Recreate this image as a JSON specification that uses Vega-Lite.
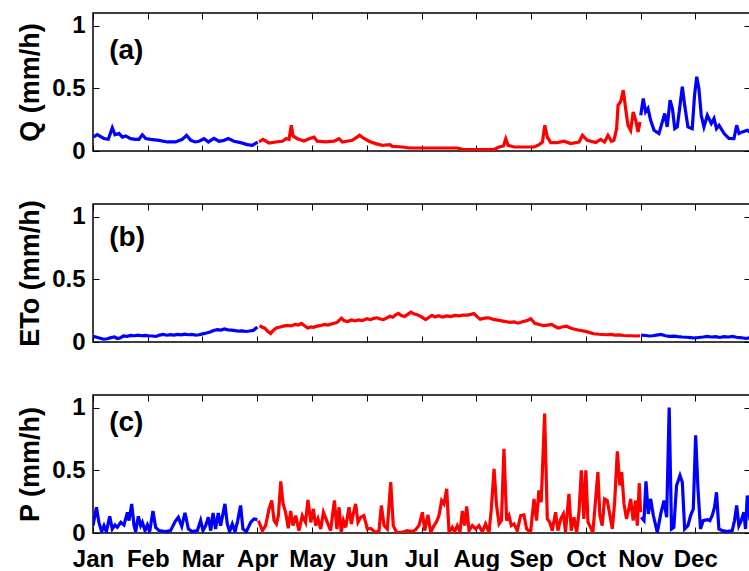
{
 "$schema": "https://vega.github.io/schema/vega-lite/v6.json",
 "padding": {"left": 15, "top": 11, "right": 0, "bottom": 0},
 "background": "white",
 "spacing": 53,
 "bounds": "flush",
 "config": {
  "view": {"stroke": "black", "strokeWidth": 1.5},
  "font": "Liberation Sans",
  "axis": {"labelFont": "Liberation Sans", "labelFontSize": 24, "labelFontWeight": "bold", "labelColor": "black", "titleFont": "Liberation Sans", "titleFontSize": 27, "titleFontWeight": "bold", "titleColor": "black", "tickColor": "black", "tickSize": -6, "tickWidth": 1, "domain": false, "grid": false}
 },
 "datasets": {
  "lab": [
   {"p": "a", "t": "(a)", "d": 9, "v": 0.8},
   {"p": "b", "t": "(b)", "d": 9, "v": 0.83},
   {"p": "c", "t": "(c)", "d": 9, "v": 0.88}
  ],
  "d": [
   {"p":"a","g":1,"s":"w","d":0,"v":0.11},{"p":"a","g":1,"s":"w","d":2.4,"v":0.13},{"p":"a","g":1,"s":"w","d":6,"v":0.1},{"p":"a","g":1,"s":"w","d":8.5,"v":0.094},{"p":"a","g":1,"s":"w","d":10.7,"v":0.184},{"p":"a","g":1,"s":"w","d":12.2,"v":0.13},{"p":"a","g":1,"s":"w","d":14.4,"v":0.14},{"p":"a","g":1,"s":"w","d":16.3,"v":0.11},{"p":"a","g":1,"s":"w","d":18.1,"v":0.12},{"p":"a","g":1,"s":"w","d":20.9,"v":0.098},{"p":"a","g":1,"s":"w","d":23.7,"v":0.093},{"p":"a","g":1,"s":"w","d":25.5,"v":0.093},{"p":"a","g":1,"s":"w","d":27.4,"v":0.13},{"p":"a","g":1,"s":"w","d":29.3,"v":0.1},{"p":"a","g":1,"s":"w","d":32,"v":0.093},{"p":"a","g":1,"s":"w","d":36.7,"v":0.085},{"p":"a","g":1,"s":"w","d":41.3,"v":0.072},{"p":"a","g":1,"s":"w","d":45.9,"v":0.072},{"p":"a","g":1,"s":"w","d":49.6,"v":0.093},{"p":"a","g":1,"s":"w","d":52,"v":0.125},{"p":"a","g":1,"s":"w","d":54.3,"v":0.085},{"p":"a","g":1,"s":"w","d":56.7,"v":0.072},{"p":"a","g":1,"s":"w","d":58.9,"v":0.078},{"p":"a","g":1,"s":"w","d":61.7,"v":0.098},{"p":"a","g":1,"s":"w","d":64.1,"v":0.072},{"p":"a","g":1,"s":"w","d":67.2,"v":0.1},{"p":"a","g":1,"s":"w","d":70,"v":0.078},{"p":"a","g":1,"s":"w","d":72.8,"v":0.085},{"p":"a","g":1,"s":"w","d":75.2,"v":0.1},{"p":"a","g":1,"s":"w","d":78.3,"v":0.078},{"p":"a","g":1,"s":"w","d":82,"v":0.067},{"p":"a","g":1,"s":"w","d":85.7,"v":0.051},{"p":"a","g":1,"s":"w","d":88.5,"v":0.045},{"p":"a","g":1,"s":"w","d":90.7,"v":0.064},{"p":"a","g":1,"s":"w","d":91.5,"v":0.07},
   {"p":"a","g":2,"s":"s","d":92.2,"v":0.072},{"p":"a","g":2,"s":"s","d":94.4,"v":0.093},{"p":"a","g":2,"s":"s","d":97.8,"v":0.064},{"p":"a","g":2,"s":"s","d":101.5,"v":0.072},{"p":"a","g":2,"s":"s","d":105.2,"v":0.078},{"p":"a","g":2,"s":"s","d":107.4,"v":0.1},{"p":"a","g":2,"s":"s","d":108.9,"v":0.093},{"p":"a","g":2,"s":"s","d":110.2,"v":0.205},{"p":"a","g":2,"s":"s","d":111.1,"v":0.12},{"p":"a","g":2,"s":"s","d":113.5,"v":0.098},{"p":"a","g":2,"s":"s","d":117.2,"v":0.08},{"p":"a","g":2,"s":"s","d":120,"v":0.098},{"p":"a","g":2,"s":"s","d":122.8,"v":0.11},{"p":"a","g":2,"s":"s","d":124.6,"v":0.078},{"p":"a","g":2,"s":"s","d":129.3,"v":0.072},{"p":"a","g":2,"s":"s","d":133.9,"v":0.078},{"p":"a","g":2,"s":"s","d":136.7,"v":0.098},{"p":"a","g":2,"s":"s","d":138.5,"v":0.072},{"p":"a","g":2,"s":"s","d":144.1,"v":0.085},{"p":"a","g":2,"s":"s","d":148.1,"v":0.125},{"p":"a","g":2,"s":"s","d":150.6,"v":0.1},{"p":"a","g":2,"s":"s","d":153.3,"v":0.078},{"p":"a","g":2,"s":"s","d":157,"v":0.059},{"p":"a","g":2,"s":"s","d":160.7,"v":0.045},{"p":"a","g":2,"s":"s","d":165,"v":0.051},{"p":"a","g":2,"s":"s","d":166.3,"v":0.037},{"p":"a","g":2,"s":"s","d":171.9,"v":0.032},{"p":"a","g":2,"s":"s","d":175.6,"v":0.024},{"p":"a","g":2,"s":"s","d":181,"v":0.024},{"p":"a","g":2,"s":"s","d":202.4,"v":0.024},{"p":"a","g":2,"s":"s","d":205.2,"v":0.013},{"p":"a","g":2,"s":"s","d":211.7,"v":0.011},{"p":"a","g":2,"s":"s","d":222.8,"v":0.013},{"p":"a","g":2,"s":"s","d":225.6,"v":0.032},{"p":"a","g":2,"s":"s","d":228,"v":0.04},{"p":"a","g":2,"s":"s","d":229.3,"v":0.098},{"p":"a","g":2,"s":"s","d":230.6,"v":0.045},{"p":"a","g":2,"s":"s","d":234,"v":0.032},{"p":"a","g":2,"s":"s","d":245.1,"v":0.032},{"p":"a","g":2,"s":"s","d":247.9,"v":0.051},{"p":"a","g":2,"s":"s","d":249.7,"v":0.072},{"p":"a","g":2,"s":"s","d":251,"v":0.205},{"p":"a","g":2,"s":"s","d":252.4,"v":0.11},{"p":"a","g":2,"s":"s","d":254.3,"v":0.067},{"p":"a","g":2,"s":"s","d":258,"v":0.067},{"p":"a","g":2,"s":"s","d":261.7,"v":0.078},{"p":"a","g":2,"s":"s","d":265.4,"v":0.059},{"p":"a","g":2,"s":"s","d":270,"v":0.072},{"p":"a","g":2,"s":"s","d":271.9,"v":0.125},{"p":"a","g":2,"s":"s","d":274.6,"v":0.085},{"p":"a","g":2,"s":"s","d":279.3,"v":0.067},{"p":"a","g":2,"s":"s","d":282,"v":0.093},{"p":"a","g":2,"s":"s","d":284.2,"v":0.072},{"p":"a","g":2,"s":"s","d":286.1,"v":0.125},{"p":"a","g":2,"s":"s","d":288,"v":0.078},{"p":"a","g":2,"s":"s","d":289.4,"v":0.085},{"p":"a","g":2,"s":"s","d":290.9,"v":0.178},{"p":"a","g":2,"s":"s","d":291.7,"v":0.365},{"p":"a","g":2,"s":"s","d":293.1,"v":0.392},{"p":"a","g":2,"s":"s","d":294.6,"v":0.485},{"p":"a","g":2,"s":"s","d":295.9,"v":0.339},{"p":"a","g":2,"s":"s","d":297.2,"v":0.205},{"p":"a","g":2,"s":"s","d":298.7,"v":0.165},{"p":"a","g":2,"s":"s","d":300.1,"v":0.312},{"p":"a","g":2,"s":"s","d":301.5,"v":0.245},{"p":"a","g":2,"s":"s","d":302.8,"v":0.152},{"p":"a","g":2,"s":"s","d":303.9,"v":0.232},
   {"p":"a","g":3,"s":"w","d":304.3,"v":0.285},{"p":"a","g":3,"s":"w","d":305.7,"v":0.419},{"p":"a","g":3,"s":"w","d":307,"v":0.312},{"p":"a","g":3,"s":"w","d":308.3,"v":0.339},{"p":"a","g":3,"s":"w","d":309.8,"v":0.245},{"p":"a","g":3,"s":"w","d":311.7,"v":0.165},{"p":"a","g":3,"s":"w","d":314.4,"v":0.139},{"p":"a","g":3,"s":"w","d":316.3,"v":0.232},{"p":"a","g":3,"s":"w","d":317.6,"v":0.299},{"p":"a","g":3,"s":"w","d":319,"v":0.192},{"p":"a","g":3,"s":"w","d":320.6,"v":0.405},{"p":"a","g":3,"s":"w","d":321.9,"v":0.339},{"p":"a","g":3,"s":"w","d":323.2,"v":0.178},{"p":"a","g":3,"s":"w","d":324.6,"v":0.192},{"p":"a","g":3,"s":"w","d":325.9,"v":0.339},{"p":"a","g":3,"s":"w","d":327.4,"v":0.512},{"p":"a","g":3,"s":"w","d":328.7,"v":0.365},{"p":"a","g":3,"s":"w","d":330.5,"v":0.192},{"p":"a","g":3,"s":"w","d":332.9,"v":0.178},{"p":"a","g":3,"s":"w","d":334.2,"v":0.445},{"p":"a","g":3,"s":"w","d":335.4,"v":0.592},{"p":"a","g":3,"s":"w","d":336.6,"v":0.499},{"p":"a","g":3,"s":"w","d":337.9,"v":0.285},{"p":"a","g":3,"s":"w","d":339.4,"v":0.192},{"p":"a","g":3,"s":"w","d":341.3,"v":0.285},{"p":"a","g":3,"s":"w","d":343.5,"v":0.219},{"p":"a","g":3,"s":"w","d":345,"v":0.259},{"p":"a","g":3,"s":"w","d":346.4,"v":0.178},{"p":"a","g":3,"s":"w","d":347.8,"v":0.205},{"p":"a","g":3,"s":"w","d":350.6,"v":0.139},{"p":"a","g":3,"s":"w","d":353.3,"v":0.1},{"p":"a","g":3,"s":"w","d":356.1,"v":0.098},{"p":"a","g":3,"s":"w","d":357.6,"v":0.205},{"p":"a","g":3,"s":"w","d":358.9,"v":0.139},{"p":"a","g":3,"s":"w","d":360.7,"v":0.152},{"p":"a","g":3,"s":"w","d":363.5,"v":0.165},{"p":"a","g":3,"s":"w","d":365,"v":0.15},
   {"p":"b","g":1,"s":"w","d":0,"v":0.045},{"p":"b","g":1,"s":"w","d":2,"v":0.038},{"p":"b","g":1,"s":"w","d":4,"v":0.03},{"p":"b","g":1,"s":"w","d":6,"v":0.022},{"p":"b","g":1,"s":"w","d":8,"v":0.026},{"p":"b","g":1,"s":"w","d":10,"v":0.035},{"p":"b","g":1,"s":"w","d":12,"v":0.04},{"p":"b","g":1,"s":"w","d":13.5,"v":0.028},{"p":"b","g":1,"s":"w","d":15,"v":0.032},{"p":"b","g":1,"s":"w","d":17,"v":0.048},{"p":"b","g":1,"s":"w","d":19,"v":0.045},{"p":"b","g":1,"s":"w","d":21,"v":0.052},{"p":"b","g":1,"s":"w","d":23,"v":0.05},{"p":"b","g":1,"s":"w","d":25,"v":0.055},{"p":"b","g":1,"s":"w","d":27,"v":0.05},{"p":"b","g":1,"s":"w","d":29,"v":0.053},{"p":"b","g":1,"s":"w","d":31,"v":0.05},{"p":"b","g":1,"s":"w","d":33,"v":0.048},{"p":"b","g":1,"s":"w","d":35,"v":0.044},{"p":"b","g":1,"s":"w","d":37,"v":0.055},{"p":"b","g":1,"s":"w","d":39,"v":0.06},{"p":"b","g":1,"s":"w","d":41,"v":0.054},{"p":"b","g":1,"s":"w","d":43,"v":0.058},{"p":"b","g":1,"s":"w","d":45,"v":0.055},{"p":"b","g":1,"s":"w","d":47,"v":0.06},{"p":"b","g":1,"s":"w","d":49,"v":0.057},{"p":"b","g":1,"s":"w","d":51,"v":0.062},{"p":"b","g":1,"s":"w","d":53,"v":0.058},{"p":"b","g":1,"s":"w","d":55,"v":0.06},{"p":"b","g":1,"s":"w","d":57,"v":0.055},{"p":"b","g":1,"s":"w","d":59,"v":0.058},{"p":"b","g":1,"s":"w","d":61,"v":0.065},{"p":"b","g":1,"s":"w","d":63,"v":0.072},{"p":"b","g":1,"s":"w","d":65,"v":0.08},{"p":"b","g":1,"s":"w","d":67,"v":0.092},{"p":"b","g":1,"s":"w","d":69,"v":0.098},{"p":"b","g":1,"s":"w","d":71,"v":0.095},{"p":"b","g":1,"s":"w","d":73,"v":0.104},{"p":"b","g":1,"s":"w","d":75,"v":0.097},{"p":"b","g":1,"s":"w","d":77,"v":0.094},{"p":"b","g":1,"s":"w","d":79,"v":0.09},{"p":"b","g":1,"s":"w","d":81,"v":0.086},{"p":"b","g":1,"s":"w","d":83,"v":0.089},{"p":"b","g":1,"s":"w","d":85,"v":0.084},{"p":"b","g":1,"s":"w","d":87,"v":0.088},{"p":"b","g":1,"s":"w","d":89,"v":0.092},{"p":"b","g":1,"s":"w","d":91.3,"v":0.12},
   {"p":"b","g":2,"s":"s","d":92.5,"v":0.13},{"p":"b","g":2,"s":"s","d":94,"v":0.118},{"p":"b","g":2,"s":"s","d":95.5,"v":0.11},{"p":"b","g":2,"s":"s","d":97,"v":0.085},{"p":"b","g":2,"s":"s","d":98.7,"v":0.067},{"p":"b","g":2,"s":"s","d":100,"v":0.09},{"p":"b","g":2,"s":"s","d":101.8,"v":0.112},{"p":"b","g":2,"s":"s","d":104,"v":0.12},{"p":"b","g":2,"s":"s","d":106,"v":0.127},{"p":"b","g":2,"s":"s","d":107.6,"v":0.132},{"p":"b","g":2,"s":"s","d":110,"v":0.128},{"p":"b","g":2,"s":"s","d":112.3,"v":0.14},{"p":"b","g":2,"s":"s","d":114,"v":0.135},{"p":"b","g":2,"s":"s","d":115.8,"v":0.148},{"p":"b","g":2,"s":"s","d":117.5,"v":0.13},{"p":"b","g":2,"s":"s","d":119.3,"v":0.112},{"p":"b","g":2,"s":"s","d":121,"v":0.12},{"p":"b","g":2,"s":"s","d":122.5,"v":0.117},{"p":"b","g":2,"s":"s","d":124,"v":0.125},{"p":"b","g":2,"s":"s","d":126,"v":0.13},{"p":"b","g":2,"s":"s","d":128.7,"v":0.14},{"p":"b","g":2,"s":"s","d":130.5,"v":0.135},{"p":"b","g":2,"s":"s","d":133.4,"v":0.148},{"p":"b","g":2,"s":"s","d":135.5,"v":0.155},{"p":"b","g":2,"s":"s","d":138,"v":0.19},{"p":"b","g":2,"s":"s","d":139.5,"v":0.17},{"p":"b","g":2,"s":"s","d":141.5,"v":0.163},{"p":"b","g":2,"s":"s","d":143.5,"v":0.175},{"p":"b","g":2,"s":"s","d":145.5,"v":0.168},{"p":"b","g":2,"s":"s","d":147.4,"v":0.176},{"p":"b","g":2,"s":"s","d":149.5,"v":0.17},{"p":"b","g":2,"s":"s","d":152.1,"v":0.185},{"p":"b","g":2,"s":"s","d":154,"v":0.178},{"p":"b","g":2,"s":"s","d":156,"v":0.188},{"p":"b","g":2,"s":"s","d":157.9,"v":0.193},{"p":"b","g":2,"s":"s","d":159.5,"v":0.183},{"p":"b","g":2,"s":"s","d":161.4,"v":0.178},{"p":"b","g":2,"s":"s","d":163,"v":0.19},{"p":"b","g":2,"s":"s","d":164.9,"v":0.205},{"p":"b","g":2,"s":"s","d":166.5,"v":0.198},{"p":"b","g":2,"s":"s","d":168,"v":0.215},{"p":"b","g":2,"s":"s","d":169.6,"v":0.228},{"p":"b","g":2,"s":"s","d":171.3,"v":0.21},{"p":"b","g":2,"s":"s","d":173.1,"v":0.203},{"p":"b","g":2,"s":"s","d":175,"v":0.222},{"p":"b","g":2,"s":"s","d":176.6,"v":0.238},{"p":"b","g":2,"s":"s","d":178.2,"v":0.225},{"p":"b","g":2,"s":"s","d":180.1,"v":0.218},{"p":"b","g":2,"s":"s","d":182.5,"v":0.2},{"p":"b","g":2,"s":"s","d":184.8,"v":0.178},{"p":"b","g":2,"s":"s","d":186.5,"v":0.195},{"p":"b","g":2,"s":"s","d":188.3,"v":0.212},{"p":"b","g":2,"s":"s","d":190,"v":0.2},{"p":"b","g":2,"s":"s","d":192,"v":0.21},{"p":"b","g":2,"s":"s","d":194.1,"v":0.198},{"p":"b","g":2,"s":"s","d":196.5,"v":0.208},{"p":"b","g":2,"s":"s","d":198.8,"v":0.203},{"p":"b","g":2,"s":"s","d":201,"v":0.212},{"p":"b","g":2,"s":"s","d":203.5,"v":0.208},{"p":"b","g":2,"s":"s","d":205.5,"v":0.215},{"p":"b","g":2,"s":"s","d":208.1,"v":0.214},{"p":"b","g":2,"s":"s","d":210,"v":0.22},{"p":"b","g":2,"s":"s","d":211.6,"v":0.226},{"p":"b","g":2,"s":"s","d":213.5,"v":0.2},{"p":"b","g":2,"s":"s","d":215.1,"v":0.182},{"p":"b","g":2,"s":"s","d":217.5,"v":0.19},{"p":"b","g":2,"s":"s","d":219.8,"v":0.193},{"p":"b","g":2,"s":"s","d":222.5,"v":0.18},{"p":"b","g":2,"s":"s","d":225.7,"v":0.172},{"p":"b","g":2,"s":"s","d":228.5,"v":0.165},{"p":"b","g":2,"s":"s","d":231.5,"v":0.156},{"p":"b","g":2,"s":"s","d":234,"v":0.16},{"p":"b","g":2,"s":"s","d":236.2,"v":0.15},{"p":"b","g":2,"s":"s","d":238.5,"v":0.162},{"p":"b","g":2,"s":"s","d":241,"v":0.17},{"p":"b","g":2,"s":"s","d":243.2,"v":0.186},{"p":"b","g":2,"s":"s","d":244.5,"v":0.165},{"p":"b","g":2,"s":"s","d":245.5,"v":0.148},{"p":"b","g":2,"s":"s","d":248,"v":0.14},{"p":"b","g":2,"s":"s","d":250.2,"v":0.13},{"p":"b","g":2,"s":"s","d":252.5,"v":0.135},{"p":"b","g":2,"s":"s","d":254.9,"v":0.14},{"p":"b","g":2,"s":"s","d":256.5,"v":0.125},{"p":"b","g":2,"s":"s","d":258.4,"v":0.112},{"p":"b","g":2,"s":"s","d":260.5,"v":0.12},{"p":"b","g":2,"s":"s","d":263.1,"v":0.126},{"p":"b","g":2,"s":"s","d":265.5,"v":0.11},{"p":"b","g":2,"s":"s","d":268.9,"v":0.098},{"p":"b","g":2,"s":"s","d":271,"v":0.092},{"p":"b","g":2,"s":"s","d":273.6,"v":0.085},{"p":"b","g":2,"s":"s","d":276,"v":0.075},{"p":"b","g":2,"s":"s","d":278.2,"v":0.066},{"p":"b","g":2,"s":"s","d":281,"v":0.062},{"p":"b","g":2,"s":"s","d":283,"v":0.06},{"p":"b","g":2,"s":"s","d":285.3,"v":0.058},{"p":"b","g":2,"s":"s","d":288,"v":0.06},{"p":"b","g":2,"s":"s","d":290,"v":0.055},{"p":"b","g":2,"s":"s","d":292.3,"v":0.057},{"p":"b","g":2,"s":"s","d":295,"v":0.052},{"p":"b","g":2,"s":"s","d":297,"v":0.05},{"p":"b","g":2,"s":"s","d":299.3,"v":0.05},{"p":"b","g":2,"s":"s","d":302,"v":0.048},{"p":"b","g":2,"s":"s","d":304,"v":0.05},
   {"p":"b","g":3,"s":"w","d":304.5,"v":0.055},{"p":"b","g":3,"s":"w","d":307,"v":0.052},{"p":"b","g":3,"s":"w","d":309,"v":0.048},{"p":"b","g":3,"s":"w","d":311,"v":0.05},{"p":"b","g":3,"s":"w","d":313,"v":0.055},{"p":"b","g":3,"s":"w","d":315.6,"v":0.06},{"p":"b","g":3,"s":"w","d":318,"v":0.05},{"p":"b","g":3,"s":"w","d":320.3,"v":0.045},{"p":"b","g":3,"s":"w","d":323,"v":0.047},{"p":"b","g":3,"s":"w","d":325,"v":0.043},{"p":"b","g":3,"s":"w","d":327.3,"v":0.04},{"p":"b","g":3,"s":"w","d":330,"v":0.038},{"p":"b","g":3,"s":"w","d":332,"v":0.035},{"p":"b","g":3,"s":"w","d":334.3,"v":0.032},{"p":"b","g":3,"s":"w","d":336.5,"v":0.036},{"p":"b","g":3,"s":"w","d":339,"v":0.04},{"p":"b","g":3,"s":"w","d":341.3,"v":0.045},{"p":"b","g":3,"s":"w","d":343.5,"v":0.04},{"p":"b","g":3,"s":"w","d":346,"v":0.042},{"p":"b","g":3,"s":"w","d":348.3,"v":0.036},{"p":"b","g":3,"s":"w","d":350.5,"v":0.042},{"p":"b","g":3,"s":"w","d":353,"v":0.04},{"p":"b","g":3,"s":"w","d":355.4,"v":0.045},{"p":"b","g":3,"s":"w","d":357.5,"v":0.038},{"p":"b","g":3,"s":"w","d":359.5,"v":0.035},{"p":"b","g":3,"s":"w","d":361.2,"v":0.032},{"p":"b","g":3,"s":"w","d":363,"v":0.028},{"p":"b","g":3,"s":"w","d":365,"v":0.035},
   {"p":"c","g":1,"s":"w","d":0,"v":0.059},{"p":"c","g":1,"s":"w","d":1.9,"v":0.205},{"p":"c","g":1,"s":"w","d":3.3,"v":0.085},{"p":"c","g":1,"s":"w","d":4.8,"v":0.011},{"p":"c","g":1,"s":"w","d":6.1,"v":0.059},{"p":"c","g":1,"s":"w","d":7.4,"v":0.011},{"p":"c","g":1,"s":"w","d":9.3,"v":0.133},{"p":"c","g":1,"s":"w","d":10.7,"v":0.032},{"p":"c","g":1,"s":"w","d":12.2,"v":0.064},{"p":"c","g":1,"s":"w","d":13.5,"v":0.045},{"p":"c","g":1,"s":"w","d":15.4,"v":0.085},{"p":"c","g":1,"s":"w","d":17.2,"v":0.064},{"p":"c","g":1,"s":"w","d":19.1,"v":0.165},{"p":"c","g":1,"s":"w","d":20,"v":0.099},{"p":"c","g":1,"s":"w","d":21.5,"v":0.232},{"p":"c","g":1,"s":"w","d":22.8,"v":0.059},{"p":"c","g":1,"s":"w","d":23.7,"v":0.011},{"p":"c","g":1,"s":"w","d":25.2,"v":0.133},{"p":"c","g":1,"s":"w","d":26.5,"v":0.059},{"p":"c","g":1,"s":"w","d":27.4,"v":0.085},{"p":"c","g":1,"s":"w","d":28.9,"v":0.019},{"p":"c","g":1,"s":"w","d":30.2,"v":0.064},{"p":"c","g":1,"s":"w","d":31.5,"v":0.011},{"p":"c","g":1,"s":"w","d":33.3,"v":0.176},{"p":"c","g":1,"s":"w","d":34.8,"v":0.045},{"p":"c","g":1,"s":"w","d":36.7,"v":0.019},{"p":"c","g":1,"s":"w","d":40.4,"v":0.011},{"p":"c","g":1,"s":"w","d":43.1,"v":0.019},{"p":"c","g":1,"s":"w","d":45.6,"v":0.091},{"p":"c","g":1,"s":"w","d":47.4,"v":0.125},{"p":"c","g":1,"s":"w","d":49.3,"v":0.053},{"p":"c","g":1,"s":"w","d":51.1,"v":0.16},{"p":"c","g":1,"s":"w","d":53,"v":0.032},{"p":"c","g":1,"s":"w","d":55.2,"v":0.011},{"p":"c","g":1,"s":"w","d":58,"v":0.019},{"p":"c","g":1,"s":"w","d":59.8,"v":0.099},{"p":"c","g":1,"s":"w","d":61.1,"v":0.019},{"p":"c","g":1,"s":"w","d":62.6,"v":0.059},{"p":"c","g":1,"s":"w","d":64.1,"v":0.125},{"p":"c","g":1,"s":"w","d":65.4,"v":0.019},{"p":"c","g":1,"s":"w","d":66.7,"v":0.16},{"p":"c","g":1,"s":"w","d":68.1,"v":0.032},{"p":"c","g":1,"s":"w","d":69.6,"v":0.16},{"p":"c","g":1,"s":"w","d":70.9,"v":0.059},{"p":"c","g":1,"s":"w","d":73.3,"v":0.232},{"p":"c","g":1,"s":"w","d":74.6,"v":0.072},{"p":"c","g":1,"s":"w","d":75.9,"v":0.011},{"p":"c","g":1,"s":"w","d":77.4,"v":0.072},{"p":"c","g":1,"s":"w","d":78.9,"v":0.011},{"p":"c","g":1,"s":"w","d":80.4,"v":0.099},{"p":"c","g":1,"s":"w","d":82,"v":0.219},{"p":"c","g":1,"s":"w","d":83.3,"v":0.032},{"p":"c","g":1,"s":"w","d":85.2,"v":0.011},{"p":"c","g":1,"s":"w","d":87.6,"v":0.085},{"p":"c","g":1,"s":"w","d":89.4,"v":0.112},{"p":"c","g":1,"s":"w","d":91.3,"v":0.107},
   {"p":"c","g":2,"s":"s","d":91.9,"v":0.099},{"p":"c","g":2,"s":"s","d":94.1,"v":0.019},{"p":"c","g":2,"s":"s","d":95.9,"v":0.059},{"p":"c","g":2,"s":"s","d":97.8,"v":0.192},{"p":"c","g":2,"s":"s","d":99.3,"v":0.259},{"p":"c","g":2,"s":"s","d":100.6,"v":0.099},{"p":"c","g":2,"s":"s","d":101.9,"v":0.072},{"p":"c","g":2,"s":"s","d":103,"v":0.139},{"p":"c","g":2,"s":"s","d":104.3,"v":0.411},{"p":"c","g":2,"s":"s","d":105.6,"v":0.232},{"p":"c","g":2,"s":"s","d":107,"v":0.165},{"p":"c","g":2,"s":"s","d":108.5,"v":0.037},{"p":"c","g":2,"s":"s","d":109.8,"v":0.176},{"p":"c","g":2,"s":"s","d":111.1,"v":0.059},{"p":"c","g":2,"s":"s","d":112.6,"v":0.139},{"p":"c","g":2,"s":"s","d":114.4,"v":0.019},{"p":"c","g":2,"s":"s","d":116.3,"v":0.139},{"p":"c","g":2,"s":"s","d":118.1,"v":0.085},{"p":"c","g":2,"s":"s","d":119.4,"v":0.264},{"p":"c","g":2,"s":"s","d":121,"v":0.085},{"p":"c","g":2,"s":"s","d":122.4,"v":0.192},{"p":"c","g":2,"s":"s","d":123.7,"v":0.059},{"p":"c","g":2,"s":"s","d":125,"v":0.112},{"p":"c","g":2,"s":"s","d":126.5,"v":0.032},{"p":"c","g":2,"s":"s","d":128,"v":0.165},{"p":"c","g":2,"s":"s","d":129.8,"v":0.099},{"p":"c","g":2,"s":"s","d":132,"v":0.019},{"p":"c","g":2,"s":"s","d":134.1,"v":0.259},{"p":"c","g":2,"s":"s","d":135.5,"v":0.032},{"p":"c","g":2,"s":"s","d":136.7,"v":0.205},{"p":"c","g":2,"s":"s","d":137.9,"v":0.005},{"p":"c","g":2,"s":"s","d":139.1,"v":0.099},{"p":"c","g":2,"s":"s","d":140.4,"v":0.045},{"p":"c","g":2,"s":"s","d":142.2,"v":0.205},{"p":"c","g":2,"s":"s","d":143.5,"v":0.072},{"p":"c","g":2,"s":"s","d":144.6,"v":0.152},{"p":"c","g":2,"s":"s","d":145.9,"v":0.232},{"p":"c","g":2,"s":"s","d":147.2,"v":0.085},{"p":"c","g":2,"s":"s","d":148.7,"v":0.125},{"p":"c","g":2,"s":"s","d":150.5,"v":0.139},{"p":"c","g":2,"s":"s","d":152.4,"v":0.032},{"p":"c","g":2,"s":"s","d":154.3,"v":0.037},{"p":"c","g":2,"s":"s","d":157,"v":0.005},{"p":"c","g":2,"s":"s","d":158.9,"v":0.019},{"p":"c","g":2,"s":"s","d":160.2,"v":0.219},{"p":"c","g":2,"s":"s","d":161.7,"v":0.059},{"p":"c","g":2,"s":"s","d":163.5,"v":0.032},{"p":"c","g":2,"s":"s","d":165.4,"v":0.405},{"p":"c","g":2,"s":"s","d":166.8,"v":0.059},{"p":"c","g":2,"s":"s","d":168.7,"v":0.005},{"p":"c","g":2,"s":"s","d":171.9,"v":0.005},{"p":"c","g":2,"s":"s","d":174.6,"v":0.019},{"p":"c","g":2,"s":"s","d":177.4,"v":0.011},{"p":"c","g":2,"s":"s","d":179.3,"v":0.027},{"p":"c","g":2,"s":"s","d":181.1,"v":0.059},{"p":"c","g":2,"s":"s","d":183,"v":0.165},{"p":"c","g":2,"s":"s","d":184.3,"v":0.019},{"p":"c","g":2,"s":"s","d":186.1,"v":0.144},{"p":"c","g":2,"s":"s","d":187.6,"v":0.005},{"p":"c","g":2,"s":"s","d":189.4,"v":0.059},{"p":"c","g":2,"s":"s","d":190.9,"v":0.091},{"p":"c","g":2,"s":"s","d":192.2,"v":0.139},{"p":"c","g":2,"s":"s","d":193.7,"v":0.259},{"p":"c","g":2,"s":"s","d":195,"v":0.232},{"p":"c","g":2,"s":"s","d":196.5,"v":0.352},{"p":"c","g":2,"s":"s","d":197.8,"v":0.005},{"p":"c","g":2,"s":"s","d":199.6,"v":0.045},{"p":"c","g":2,"s":"s","d":200.9,"v":0.011},{"p":"c","g":2,"s":"s","d":202.4,"v":0.059},{"p":"c","g":2,"s":"s","d":203.9,"v":0.011},{"p":"c","g":2,"s":"s","d":205.2,"v":0.176},{"p":"c","g":2,"s":"s","d":206.5,"v":0.059},{"p":"c","g":2,"s":"s","d":207.6,"v":0.211},{"p":"c","g":2,"s":"s","d":208.9,"v":0.019},{"p":"c","g":2,"s":"s","d":210.7,"v":0.059},{"p":"c","g":2,"s":"s","d":212.6,"v":0.032},{"p":"c","g":2,"s":"s","d":214.4,"v":0.059},{"p":"c","g":2,"s":"s","d":216.3,"v":0.011},{"p":"c","g":2,"s":"s","d":218.1,"v":0.072},{"p":"c","g":2,"s":"s","d":220,"v":0.005},{"p":"c","g":2,"s":"s","d":221.3,"v":0.192},{"p":"c","g":2,"s":"s","d":222.8,"v":0.512},{"p":"c","g":2,"s":"s","d":224.2,"v":0.219},{"p":"c","g":2,"s":"s","d":225.6,"v":0.072},{"p":"c","g":2,"s":"s","d":226.9,"v":0.099},{"p":"c","g":2,"s":"s","d":228.3,"v":0.672},{"p":"c","g":2,"s":"s","d":229.8,"v":0.099},{"p":"c","g":2,"s":"s","d":231.1,"v":0.139},{"p":"c","g":2,"s":"s","d":232.4,"v":0.059},{"p":"c","g":2,"s":"s","d":233.9,"v":0.072},{"p":"c","g":2,"s":"s","d":235.7,"v":0.019},{"p":"c","g":2,"s":"s","d":237.6,"v":0.139},{"p":"c","g":2,"s":"s","d":239.4,"v":0.144},{"p":"c","g":2,"s":"s","d":240.9,"v":0.032},{"p":"c","g":2,"s":"s","d":243.1,"v":0.005},{"p":"c","g":2,"s":"s","d":245,"v":0.272},{"p":"c","g":2,"s":"s","d":246.4,"v":0.099},{"p":"c","g":2,"s":"s","d":247.7,"v":0.339},{"p":"c","g":2,"s":"s","d":249,"v":0.245},{"p":"c","g":2,"s":"s","d":250.9,"v":0.952},{"p":"c","g":2,"s":"s","d":252.4,"v":0.112},{"p":"c","g":2,"s":"s","d":253.8,"v":0.085},{"p":"c","g":2,"s":"s","d":255.1,"v":0.019},{"p":"c","g":2,"s":"s","d":257,"v":0.165},{"p":"c","g":2,"s":"s","d":258.3,"v":0.019},{"p":"c","g":2,"s":"s","d":259.8,"v":0.112},{"p":"c","g":2,"s":"s","d":261.3,"v":0.152},{"p":"c","g":2,"s":"s","d":262.5,"v":0.005},{"p":"c","g":2,"s":"s","d":264.4,"v":0.312},{"p":"c","g":2,"s":"s","d":265.7,"v":0.019},{"p":"c","g":2,"s":"s","d":267.2,"v":0.125},{"p":"c","g":2,"s":"s","d":268.7,"v":0.005},{"p":"c","g":2,"s":"s","d":270,"v":0.165},{"p":"c","g":2,"s":"s","d":271.3,"v":0.499},{"p":"c","g":2,"s":"s","d":272.7,"v":0.112},{"p":"c","g":2,"s":"s","d":273.8,"v":0.499},{"p":"c","g":2,"s":"s","d":275,"v":0.085},{"p":"c","g":2,"s":"s","d":276.4,"v":0.045},{"p":"c","g":2,"s":"s","d":277.7,"v":0.005},{"p":"c","g":2,"s":"s","d":278.8,"v":0.192},{"p":"c","g":2,"s":"s","d":280.5,"v":0.485},{"p":"c","g":2,"s":"s","d":281.6,"v":0.139},{"p":"c","g":2,"s":"s","d":282.9,"v":0.059},{"p":"c","g":2,"s":"s","d":284.2,"v":0.272},{"p":"c","g":2,"s":"s","d":285.7,"v":0.259},{"p":"c","g":2,"s":"s","d":287.2,"v":0.139},{"p":"c","g":2,"s":"s","d":288.5,"v":0.032},{"p":"c","g":2,"s":"s","d":289.8,"v":0.245},{"p":"c","g":2,"s":"s","d":291.3,"v":0.651},{"p":"c","g":2,"s":"s","d":292.7,"v":0.379},{"p":"c","g":2,"s":"s","d":293.7,"v":0.485},{"p":"c","g":2,"s":"s","d":295,"v":0.232},{"p":"c","g":2,"s":"s","d":296.4,"v":0.112},{"p":"c","g":2,"s":"s","d":297.7,"v":0.192},{"p":"c","g":2,"s":"s","d":298.7,"v":0.272},{"p":"c","g":2,"s":"s","d":300.1,"v":0.099},{"p":"c","g":2,"s":"s","d":301.4,"v":0.259},{"p":"c","g":2,"s":"s","d":302.4,"v":0.059},{"p":"c","g":2,"s":"s","d":303.5,"v":0.397},{"p":"c","g":2,"s":"s","d":304.2,"v":0.165},
   {"p":"c","g":3,"s":"w","d":304.6,"v":0.125},{"p":"c","g":3,"s":"w","d":306.1,"v":0.099},{"p":"c","g":3,"s":"w","d":307.2,"v":0.411},{"p":"c","g":3,"s":"w","d":308.5,"v":0.152},{"p":"c","g":3,"s":"w","d":309.8,"v":0.272},{"p":"c","g":3,"s":"w","d":311.3,"v":0.139},{"p":"c","g":3,"s":"w","d":313.5,"v":0.005},{"p":"c","g":3,"s":"w","d":315.3,"v":0.144},{"p":"c","g":3,"s":"w","d":317.2,"v":0.259},{"p":"c","g":3,"s":"w","d":318.7,"v":0.125},{"p":"c","g":3,"s":"w","d":320.1,"v":1.0},{"p":"c","g":3,"s":"w","d":321.4,"v":0.032},{"p":"c","g":3,"s":"w","d":322.7,"v":0.045},{"p":"c","g":3,"s":"w","d":324.2,"v":0.379},{"p":"c","g":3,"s":"w","d":326.1,"v":0.459},{"p":"c","g":3,"s":"w","d":327.4,"v":0.405},{"p":"c","g":3,"s":"w","d":328.7,"v":0.032},{"p":"c","g":3,"s":"w","d":330.5,"v":0.059},{"p":"c","g":3,"s":"w","d":332,"v":0.139},{"p":"c","g":3,"s":"w","d":333.5,"v":0.192},{"p":"c","g":3,"s":"w","d":334.8,"v":0.779},{"p":"c","g":3,"s":"w","d":336.1,"v":0.352},{"p":"c","g":3,"s":"w","d":337.5,"v":0.032},{"p":"c","g":3,"s":"w","d":339,"v":0.099},{"p":"c","g":3,"s":"w","d":341.3,"v":0.107},{"p":"c","g":3,"s":"w","d":342.7,"v":0.099},{"p":"c","g":3,"s":"w","d":344,"v":0.139},{"p":"c","g":3,"s":"w","d":345.3,"v":0.205},{"p":"c","g":3,"s":"w","d":346.4,"v":0.325},{"p":"c","g":3,"s":"w","d":347.7,"v":0.032},{"p":"c","g":3,"s":"w","d":349.6,"v":0.019},{"p":"c","g":3,"s":"w","d":352.4,"v":0.011},{"p":"c","g":3,"s":"w","d":355.1,"v":0.019},{"p":"c","g":3,"s":"w","d":356.4,"v":0.099},{"p":"c","g":3,"s":"w","d":357.6,"v":0.219},{"p":"c","g":3,"s":"w","d":358.8,"v":0.059},{"p":"c","g":3,"s":"w","d":360.1,"v":0.099},{"p":"c","g":3,"s":"w","d":361.6,"v":0.165},{"p":"c","g":3,"s":"w","d":362.5,"v":0.032},{"p":"c","g":3,"s":"w","d":363.5,"v":0.299},{"p":"c","g":3,"s":"w","d":365,"v":0.1}
  ]
 },
 "vconcat": [
  {
   "width": 657, "height": 138,
   "layer": [
    {"data": {"name": "d"}, "transform": [{"filter": "datum.p == 'a'"}],
     "mark": {"type": "line", "strokeWidth": 3.2, "clip": true},
     "encoding": {
      "x": {"field": "d", "type": "quantitative", "scale": {"domain": [0, 365], "nice": false, "zero": false}, "axis": {"orient": "bottom", "values": [0, 30.4167, 60.8333, 91.25, 121.6667, 152.0833, 182.5, 212.9167, 243.3333, 273.75, 304.1667, 334.5833], "labels": false, "title": null}},
      "y": {"field": "v", "type": "quantitative", "scale": {"domain": [0, 1.1], "nice": false}, "axis": {"orient": "left", "values": [0, 0.5, 1], "format": "~g", "labelPadding": 14, "title": "Q (mm/h)", "titlePadding": 7}},
      "color": {"field": "s", "type": "nominal", "scale": {"domain": ["w", "s"], "range": ["#0000ff", "#ff0000"]}, "legend": null},
      "detail": {"field": "g", "type": "nominal"}
     }},
    {"data": {"name": "lab"}, "transform": [{"filter": "datum.p == 'a'"}],
     "mark": {"type": "text", "font": "Liberation Sans", "fontSize": 28, "fontWeight": "bold", "align": "left", "baseline": "middle", "color": "black"},
     "encoding": {
      "x": {"field": "d", "type": "quantitative", "axis": {"orient": "top", "values": [0, 30.4167, 60.8333, 91.25, 121.6667, 152.0833, 182.5, 212.9167, 243.3333, 273.75, 304.1667, 334.5833], "labels": false, "title": null}},
      "y": {"field": "v", "type": "quantitative", "axis": {"orient": "right", "values": [0, 0.5, 1], "labels": false, "title": null}},
      "text": {"field": "t"}
     }}
   ],
   "resolve": {"axis": {"x": "independent", "y": "independent"}}
  },
  {
   "width": 657, "height": 138,
   "layer": [
    {"data": {"name": "d"}, "transform": [{"filter": "datum.p == 'b'"}],
     "mark": {"type": "line", "strokeWidth": 3.2, "clip": true},
     "encoding": {
      "x": {"field": "d", "type": "quantitative", "scale": {"domain": [0, 365], "nice": false, "zero": false}, "axis": {"orient": "bottom", "values": [0, 30.4167, 60.8333, 91.25, 121.6667, 152.0833, 182.5, 212.9167, 243.3333, 273.75, 304.1667, 334.5833], "labels": false, "title": null}},
      "y": {"field": "v", "type": "quantitative", "scale": {"domain": [0, 1.1], "nice": false}, "axis": {"orient": "left", "values": [0, 0.5, 1], "format": "~g", "labelPadding": 14, "title": "ETo (mm/h)", "titlePadding": 7}},
      "color": {"field": "s", "type": "nominal", "scale": {"domain": ["w", "s"], "range": ["#0000ff", "#ff0000"]}, "legend": null},
      "detail": {"field": "g", "type": "nominal"}
     }},
    {"data": {"name": "lab"}, "transform": [{"filter": "datum.p == 'b'"}],
     "mark": {"type": "text", "font": "Liberation Sans", "fontSize": 28, "fontWeight": "bold", "align": "left", "baseline": "middle", "color": "black"},
     "encoding": {
      "x": {"field": "d", "type": "quantitative", "axis": {"orient": "top", "values": [0, 30.4167, 60.8333, 91.25, 121.6667, 152.0833, 182.5, 212.9167, 243.3333, 273.75, 304.1667, 334.5833], "labels": false, "title": null}},
      "y": {"field": "v", "type": "quantitative", "axis": {"orient": "right", "values": [0, 0.5, 1], "labels": false, "title": null}},
      "text": {"field": "t"}
     }}
   ],
   "resolve": {"axis": {"x": "independent", "y": "independent"}}
  },
  {
   "width": 657, "height": 138,
   "layer": [
    {"data": {"name": "d"}, "transform": [{"filter": "datum.p == 'c'"}],
     "mark": {"type": "line", "strokeWidth": 3.2, "clip": true},
     "encoding": {
      "x": {"field": "d", "type": "quantitative", "scale": {"domain": [0, 365], "nice": false, "zero": false}, "axis": {"orient": "bottom", "values": [0, 30.4167, 60.8333, 91.25, 121.6667, 152.0833, 182.5, 212.9167, 243.3333, 273.75, 304.1667, 334.5833], "labelExpr": "['Jan','Feb','Mar','Apr','May','Jun','Jul','Aug','Sep','Oct','Nov','Dec'][round(datum.value / 30.4167)]", "labelPadding": 20, "labelOverlap": false, "labelFlush": false, "title": null}},
      "y": {"field": "v", "type": "quantitative", "scale": {"domain": [0, 1.1], "nice": false}, "axis": {"orient": "left", "values": [0, 0.5, 1], "format": "~g", "labelPadding": 14, "title": "P (mm/h)", "titlePadding": 7}},
      "color": {"field": "s", "type": "nominal", "scale": {"domain": ["w", "s"], "range": ["#0000ff", "#ff0000"]}, "legend": null},
      "detail": {"field": "g", "type": "nominal"}
     }},
    {"data": {"name": "lab"}, "transform": [{"filter": "datum.p == 'c'"}],
     "mark": {"type": "text", "font": "Liberation Sans", "fontSize": 28, "fontWeight": "bold", "align": "left", "baseline": "middle", "color": "black"},
     "encoding": {
      "x": {"field": "d", "type": "quantitative", "axis": {"orient": "top", "values": [0, 30.4167, 60.8333, 91.25, 121.6667, 152.0833, 182.5, 212.9167, 243.3333, 273.75, 304.1667, 334.5833], "labels": false, "title": null}},
      "y": {"field": "v", "type": "quantitative", "axis": {"orient": "right", "values": [0, 0.5, 1], "labels": false, "title": null}},
      "text": {"field": "t"}
     }}
   ],
   "resolve": {"axis": {"x": "independent", "y": "independent"}}
  }
 ]
}
